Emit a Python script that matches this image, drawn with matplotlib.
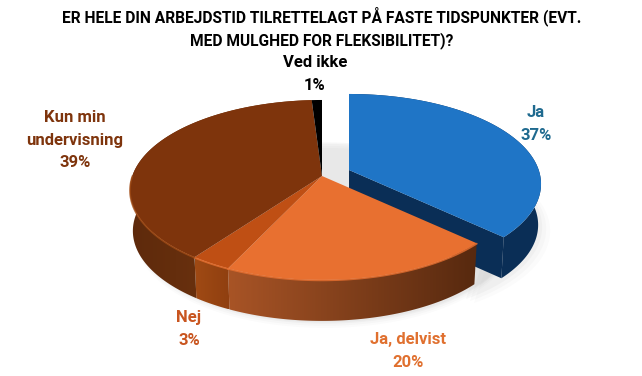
import numpy as np
import matplotlib
matplotlib.use("Agg")
import matplotlib.pyplot as plt
from matplotlib.patches import Polygon
from matplotlib.colors import LinearSegmentedColormap

plt.rcParams['font.family'] = ['Roboto', 'DejaVu Sans']

title = "ER HELE DIN ARBEJDSTID TILRETTELAGT PÅ FASTE TIDSPUNKTER (EVT.\nMED MULGHED FOR FLEKSIBILITET)?"
categories = ["Ja", "Ja, delvist", "Nej", "Kun min\nundervisning", "Ved ikke"]
values = [37, 20, 3, 39, 1]
top_colors = ["#1f75c6", "#e87030", "#bf4f14", "#7e340c", "#000000"]
side_colors = [("#0a2e56", "#0a2e56"), ("#a85426", "#57290f"), ("#a04a14", "#8f3f10"),
               ("#5e2a0c", "#7a3a10"), ("#000000", "#000000")]
label_colors = ["#1f6a8f", "#e0702f", "#c9551f", "#7e340c", "#000000"]
label_pos = [(536, 124), (408, 351), (189, 329), (75, 140), (315, 74)]

# pie geometry in picture pixels
CX, CY = 322, 176
A, B, K = 189.7, 87.8, 0.155
DEPTH = 41
EXPLODE = (27, -6)


def project(deg, r=1.0, bottom=False, off=(0, 0)):
    # circle seen in perspective, deg runs clockwise from 12 o'clock
    t = np.radians(deg)
    u, v = r * np.sin(t), r * np.cos(t)
    d = 1 + K * v
    s = 0.985 if bottom else 1.0
    x = CX + off[0] + s * A * u / d
    y = CY + off[1] - B * v / d + (DEPTH if bottom else 0)
    return x, y


def wedge_top(a0, a1, off=(0, 0)):
    th = np.linspace(a0, a1, 120)
    x, y = project(th, off=off)
    return np.r_[[CX + off[0]], x], np.r_[[CY + off[1]], y]


def side_wall(a0, a1, off=(0, 0)):
    th = np.linspace(a0, a1, 120)
    x, y = project(th, off=off)
    xb, yb = project(th[::-1], bottom=True, off=off)
    return np.r_[x, xb], np.r_[y, yb]


fig = plt.figure(figsize=(6.42, 3.76), dpi=100)
ax = fig.add_axes([0, 0, 1, 1])
ax.set_xlim(0, 642)
ax.set_ylim(376, 0)
ax.axis("off")

edges = np.r_[0, np.cumsum(values)] / sum(values) * 360

# soft shadow under the pie
th = np.linspace(0, 360, 200)
for grow, alpha in zip([10, 7, 4, 2], [0.03, 0.04, 0.05, 0.06]):
    x, y = project(th, bottom=True)
    ax.add_patch(Polygon(np.c_[x + 3, y + grow * 0.7], fc="#808080", ec="none", alpha=alpha, zorder=1))
for grow, alpha in zip([12, 8, 4], [0.03, 0.04, 0.05]):
    x, y = project(th[(th > 60) & (th < 150)], bottom=True, off=EXPLODE)
    ax.add_patch(Polygon(np.c_[x + grow, y + grow * 0.5], fc="#808080", ec="none", alpha=alpha, zorder=1))

# exploded slice first, the others sit in front of it
a0, a1 = edges[0], edges[1]
x0, y0 = project(a0, off=EXPLODE)
ax.add_patch(Polygon([(x0, y0), (CX + EXPLODE[0], CY + EXPLODE[1]),
                      (CX + EXPLODE[0], CY + EXPLODE[1] + 30), (x0, y0 + 30)],
                     fc="#0a2e56", ec="none", zorder=2))
x1, y1 = project(a1, off=EXPLODE)
xb1, yb1 = project(a1, bottom=True, off=EXPLODE)
ax.add_patch(Polygon([(CX + EXPLODE[0], CY + EXPLODE[1]), (x1, y1), (xb1, yb1),
                      (CX + EXPLODE[0], CY + EXPLODE[1] + DEPTH)], fc="#0a2e56", ec="none", zorder=2))
xs, ys = side_wall(a0, a1, off=EXPLODE)
ax.add_patch(Polygon(np.c_[xs, ys], fc=side_colors[0][0], ec="none", zorder=2))
xs, ys = wedge_top(a0, a1, off=EXPLODE)
ax.add_patch(Polygon(np.c_[xs, ys], fc=top_colors[0], ec="none", zorder=3))

# side walls of the remaining slices
for i in range(1, len(values)):
    a0, a1 = edges[i], edges[i + 1]
    if a0 >= 270:
        a1 = min(a1, 270)
    if a1 <= a0:
        continue
    xs, ys = side_wall(a0, a1)
    poly = Polygon(np.c_[xs, ys], fc=side_colors[i][0], ec="none", zorder=4)
    ax.add_patch(poly)
    if side_colors[i][0] != side_colors[i][1]:
        cmap = LinearSegmentedColormap.from_list("wall", side_colors[i])
        poly.set_facecolor("none")
        im = ax.imshow(np.linspace(0, 1, 128).reshape(1, -1), cmap=cmap, aspect="auto",
                       extent=(xs.min(), xs.max(), ys.max(), ys.min()), zorder=4)
        im.set_clip_path(poly)
ax.set_xlim(0, 642)
ax.set_ylim(376, 0)

# top faces, with a lighter rim on the front
for i in range(1, len(values)):
    a0, a1 = edges[i], edges[i + 1]
    xs, ys = wedge_top(a0, a1)
    ax.add_patch(Polygon(np.c_[xs, ys], fc=top_colors[i], ec="none", zorder=5))
for i in range(1, 4):
    a0, a1 = edges[i], min(edges[i + 1], 270)
    th = np.linspace(a0, a1, 80)
    x, y = project(th)
    ax.plot(x, y + 0.5, color=top_colors[1] if i < 3 else "#a04a14", lw=1.2, alpha=0.8, zorder=6)

# labels
ax.text(322, 27.5, title, ha="center", va="center", fontsize=11.2, fontweight="bold",
        color="#000000", linespacing=1.5, zorder=8)
for name, val, col, pos in zip(categories, values, label_colors, label_pos):
    ax.text(pos[0], pos[1], f"{name}\n{val}%", ha="center", va="center", fontsize=12,
            fontweight="bold", color=col, linespacing=1.6, zorder=8)

fig.savefig("out.png", dpi=100)
